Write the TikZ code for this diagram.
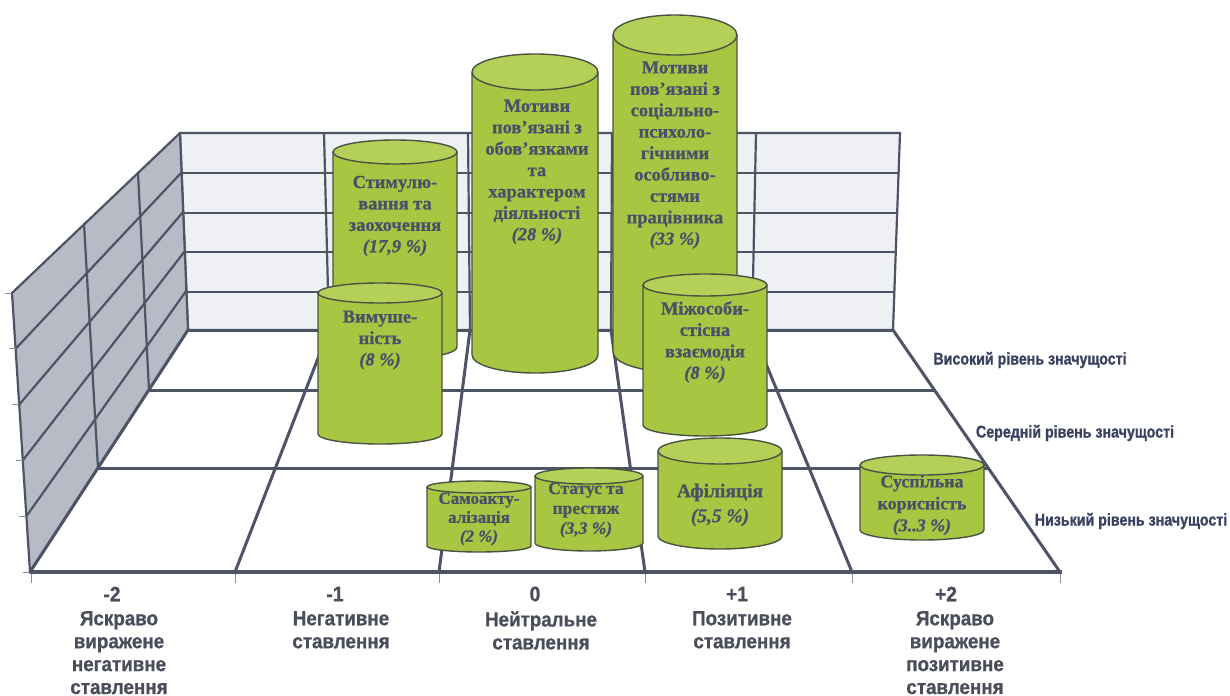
\documentclass[tikz,border=0pt]{standalone}
\usepackage{fontspec}
\setmainfont{Liberation Serif}
\newfontfamily\serifb{Liberation Serif Bold}[ItalicFont={Liberation Serif Bold Italic},FakeBold=0.8]
\newfontfamily\narrowb{Liberation Sans Bold}[FakeStretch=0.84,FakeBold=1]
\newfontfamily\axisb{Liberation Sans Bold}[FakeStretch=0.92,FakeBold=0.8]
\definecolor{lineC}{HTML}{4E5366}
\definecolor{leftW}{HTML}{B7BBC6}
\definecolor{backW}{HTML}{EEF0F4}
\definecolor{cylG}{HTML}{A8C642}
\definecolor{cylT}{HTML}{B4D058}
\definecolor{cylE}{HTML}{4A5342}
\definecolor{txtC}{HTML}{4A5068}
\definecolor{lblC}{HTML}{3B4160}
\definecolor{axC}{HTML}{4A4E5A}
\definecolor{tickC}{HTML}{8A8D96}
\newcommand{\mkcyl}[5]{%
  \fill[cylG] (#1-#2,#3) -- (#1-#2,#4) arc[start angle=180,end angle=0,x radius=#2,y radius=#5] -- (#1+#2,#3) -- cycle;
  \draw[cyledge] (#1-#2,#3) -- (#1-#2,#4) arc[start angle=180,end angle=0,x radius=#2,y radius=#5] -- (#1+#2,#3);
  \filldraw[cyltop] (#1,#3) ellipse[x radius=#2,y radius=#5];}
\begin{document}
\begin{tikzpicture}[x=1bp,y=-1bp,
  wallline/.style={draw=lineC,line width=2.2bp,line cap=round},
  floorline/.style={draw=lineC,line width=3bp,line cap=round},
  axisline/.style={draw=lineC,line width=4.5bp},
  tickline/.style={draw=tickC,line width=0.9bp},
  cyledge/.style={draw=cylE,line width=1.4bp},
  cyltop/.style={fill=cylT,draw=cylE,line width=1.4bp},
  cyltext/.style={font=\serifb\fontsize{18.5}{21.5}\selectfont,text=txtC,align=center,inner sep=0pt},
  lvl/.style={font=\narrowb\fontsize{17}{20}\selectfont,text=lblC,inner sep=0pt},
  axnum/.style={font=\axisb\fontsize{21}{23}\selectfont,text=axC,inner sep=0pt},
  axtext/.style={font=\axisb\fontsize{20.5}{23}\selectfont,text=axC,align=center,inner sep=0pt,anchor=north}]
\useasboundingbox (0,0) rectangle (1230,696);
\fill[white] (0,0) rectangle (1230,696);
% back wall
\filldraw[fill=backW,wallline] (180,133) -- (900,133) -- (893,330) -- (188,330) -- cycle;
\foreach \yl/\xl/\xr in {173/181.6/898.6, 213/183.2/897.2, 252/184.8/895.8, 292/186.5/894.4}
  \draw[wallline] (\xl,\yl) -- (\xr,\yl);
\foreach \xt/\xb in {324/329, 468/470, 612/611, 756/752}
  \draw[wallline] (\xt,133) -- (\xb,330);
% left wall
\filldraw[fill=leftW,wallline,line join=round] (180,133) -- (12,293) -- (30,572) -- (188,330) -- cycle;
\foreach \bx/\by/\fx/\fy in {181.6/172.4/15.6/348.8, 183.2/211.8/19.2/404.6, 184.8/251.2/22.8/460.4, 186.4/290.6/26.4/516.2}
  \draw[wallline] (\bx,\by) -- (\fx,\fy);
\draw[wallline] (84,224) -- (98,468);
\draw[wallline] (138,173) -- (149,390);
\foreach \fy in {293,348.8,404.6,460.4,516.2,572}
  \draw[tickline] ({12+18*(\fy-293)/279},\fy) -- ({12+18*(\fy-293)/279-7},\fy);
% floor
\draw[floorline] (188,330) -- (893,330);
\draw[floorline] (98,468) -- (988,468);
\draw[floorline] (149,390) -- (934,390);
\foreach \xf/\xb in {235/329, 439/470, 645/611, 852/752}
  \draw[floorline] (\xf,572) -- (\xb,330);
\draw[floorline] (893,330) -- (1060,572);
\draw[floorline] (30,572) -- (188,330);
\draw[axisline] (30,572) -- (1062,572);
\foreach \xf in {31,235,439,645,852,1060}
  \draw[tickline] (\xf,574) -- (\xf,583);
% cylinders (back to front)
\mkcyl{395}{62}{152}{347}{12}
\mkcyl{535}{63}{72}{355}{18}
\mkcyl{675}{62}{35}{352}{20}
\mkcyl{380}{62}{293}{434}{10}
\mkcyl{705}{62}{285}{425}{11}
\mkcyl{479}{52}{487}{546}{6}
\mkcyl{589}{54}{476}{543}{8}
\mkcyl{720}{62}{451}{536}{13}
\mkcyl{922}{62}{465}{530}{10}
% cylinder texts
\node[cyltext] (stim) at (395,216) {Стимулю-\\вання та\\заохочення\\\textit{(17,9 \%)}};
\node[cyltext] (obov) at (537,172) {Мотиви\\пов’язані з\\обов’язками\\та\\характером\\діяльності\\\textit{(28 \%)}};
\node[cyltext] (soc) at (675,155) {Мотиви\\пов’язані з\\соціально-\\психоло-\\гічними\\особливо-\\стями\\працівника\\\textit{(33 \%)}};
\node[cyltext] (vymu) at (380,340) {Вимуше-\\ність\\\textit{(8 \%)}};
\node[cyltext] (mizh) at (705,342) {Міжособи-\\стісна\\взаємодія\\\textit{(8 \%)}};
\node[cyltext,font=\serifb\fontsize{17}{19}\selectfont] (samo) at (479,519) {Самоакту-\\алізація\\\textit{(2 \%)}};
\node[cyltext,font=\serifb\fontsize{17.5}{20}\selectfont] (stat) at (586,510) {Статус та\\престиж\\\textit{(3,3 \%)}};
\node[cyltext,font=\serifb\fontsize{19.5}{25}\selectfont] (afil) at (720,505) {Афіліяція\\\textit{(5,5 \%)}};
\node[cyltext,font=\serifb\fontsize{18}{22}\selectfont] (susp) at (922,505) {Суспільна\\корисність\\\textit{(3..3 \%)}};
% level labels
\node[lvl] (hi) at (1030,360) {Високий рівень значущості};
\node[lvl] (mid) at (1075,433) {Середній рівень значущості};
\node[lvl] (lo) at (1131,521) {Низький рівень значущості};
% axis labels
\node[axnum] (n2) at (112,594) {-2};
\node[axnum] (n1) at (335,594) {-1};
\node[axnum] (z0) at (535,594) {0};
\node[axnum] (p1) at (737,594) {+1};
\node[axnum] (p2) at (946,594) {+2};
\node[axtext] (t2) at (119,611) {Яскраво\\виражене\\негативне\\ставлення};
\node[axtext] (t1) at (341,611) {Негативне\\ставлення};
\node[axtext] (t0) at (541,611) {Нейтральне\\ставлення};
\node[axtext] (tp1) at (742,611) {Позитивне\\ставлення};
\node[axtext] (tp2) at (955,611) {Яскраво\\виражене\\позитивне\\ставлення};
\end{tikzpicture}
\end{document}
